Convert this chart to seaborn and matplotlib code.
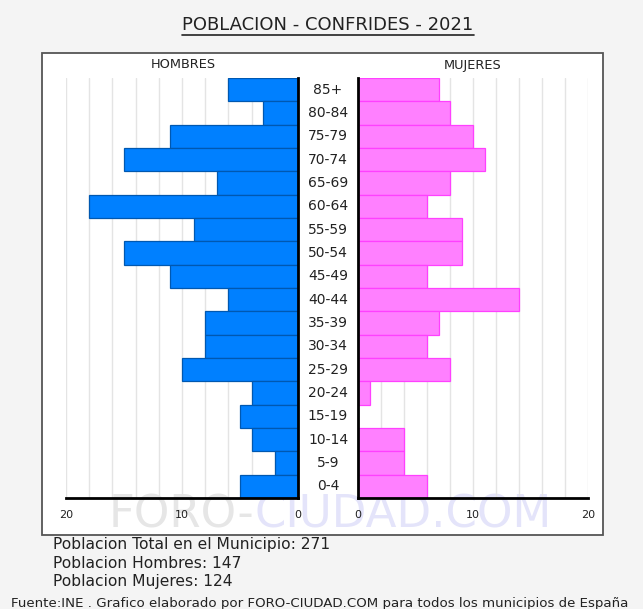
import matplotlib
matplotlib.use('Agg')
import matplotlib.pyplot as plt
import seaborn as sns
import pandas as pd
import matplotlib.transforms as mtrans
from matplotlib.patches import Rectangle
from matplotlib.lines import Line2D

ages = ['85+', '80-84', '75-79', '70-74', '65-69', '60-64', '55-59', '50-54', '45-49',
        '40-44', '35-39', '30-34', '25-29', '20-24', '15-19', '10-14', '5-9', '0-4']
hombres = [6, 3, 11, 15, 7, 18, 9, 15, 11, 6, 8, 8, 10, 4, 5, 4, 2, 5]
mujeres = [7, 8, 10, 11, 8, 6, 9, 9, 6, 14, 7, 6, 8, 1, 0, 4, 4, 6]
x_ticks = [0, 10, 20]
title = 'POBLACION - CONFRIDES - 2021'
info_lines = ['Poblacion Total en el Municipio: 271',
              'Poblacion Hombres: 147',
              'Poblacion Mujeres: 124']
footer = 'Fuente:INE . Grafico elaborado por FORO-CIUDAD.COM para todos los municipios de España'

df = pd.DataFrame({'edad': ages, 'hombres': hombres, 'mujeres': mujeres})

sns.set_style('white')
plt.rcParams['font.family'] = ['DejaVu Sans']

W, H = 643, 609
fig = plt.figure(figsize=(W / 100, H / 100), dpi=100, facecolor='#f4f4f4')


def fx(px):
    return px / W


def fy(py):
    return 1 - py / H


# white panel
fig.add_artist(Rectangle((fx(42), fy(535)), fx(603) - fx(42), fy(53) - fy(535),
                         transform=fig.transFigure, facecolor='white',
                         edgecolor='#555555', lw=1.3, zorder=-2))

ax_l = fig.add_axes([fx(66), fy(498), fx(298) - fx(66), fy(78) - fy(498)])
ax_r = fig.add_axes([fx(358), fy(498), fx(588) - fx(358), fy(78) - fy(498)])

sns.barplot(data=df, x='hombres', y='edad', order=ages, ax=ax_l, color='#0080ff',
            edgecolor='#0058b0', linewidth=0.9, width=1, saturation=1, orient='h')
sns.barplot(data=df, x='mujeres', y='edad', order=ages, ax=ax_r, color='#ff80ff',
            edgecolor='#ff40ff', linewidth=0.9, width=1, saturation=1, orient='h')

ax_l.set_xlim(20, 0)
ax_r.set_xlim(0, 20)
for ax, side in ((ax_l, 'right'), (ax_r, 'left')):
    ax.set_facecolor('none')
    ax.set_xlabel('')
    ax.set_ylabel('')
    ax.set_yticks([])
    ax.set_xticks(x_ticks)
    ax.set_xticks(range(0, 21, 2), minor=True)
    ax.grid(axis='x', which='both', color='#e4e4e4', lw=1)
    ax.set_axisbelow(True)
    ax.tick_params(axis='x', which='both', length=0, labelsize=8, pad=9, colors='#222222')
    for s in ax.spines:
        ax.spines[s].set_visible(False)
    ax.spines[side].set_visible(True)
    ax.spines[side].set_color('black')
    ax.spines[side].set_linewidth(2)
    ax.spines['bottom'].set_visible(True)
    ax.spines['bottom'].set_color('black')
    ax.spines['bottom'].set_linewidth(2)
    ax.set_ylim(len(ages) - 0.5, -0.5)

trans = mtrans.blended_transform_factory(fig.transFigure, ax_l.transData)
for i, a in enumerate(ages):
    ax_l.text(fx(328), i, a, transform=trans, ha='center', va='center',
              fontsize=10, color='#222222', clip_on=False)

fig.text(fx(183), fy(65), 'HOMBRES', ha='center', va='center', fontsize=9.3, color='#222222')
fig.text(fx(473), fy(65), 'MUJERES', ha='center', va='center', fontsize=9.3, color='#222222')

t = fig.text(fx(328), fy(25), title, ha='center', va='center', fontsize=13, color='#222222')

# watermark
w1 = fig.text(fx(109), fy(515), 'FORO-', ha='left', va='center', fontsize=32.5,
              color='#e6e6e6', zorder=-1)
fig.canvas.draw()
bb = w1.get_window_extent().transformed(fig.transFigure.inverted())
fig.text(bb.x1, fy(515), 'CIUDAD.COM', ha='left', va='center', fontsize=32.5,
         color='#e4e4fa', zorder=-1)

tb = t.get_window_extent().transformed(fig.transFigure.inverted())
fig.add_artist(Line2D([tb.x0, tb.x1], [tb.y0 - 0.001, tb.y0 - 0.001],
                      transform=fig.transFigure, color='#222222', lw=1.2))

for k, line in enumerate(info_lines):
    fig.text(fx(53), fy(545 + 18.3 * k), line, ha='left', va='center', fontsize=11.2, color='#222222')
fig.text(fx(11), fy(604), footer, ha='left', va='center', fontsize=9.6, color='#222222')

fig.savefig('out.png', dpi=100, facecolor=fig.get_facecolor())
